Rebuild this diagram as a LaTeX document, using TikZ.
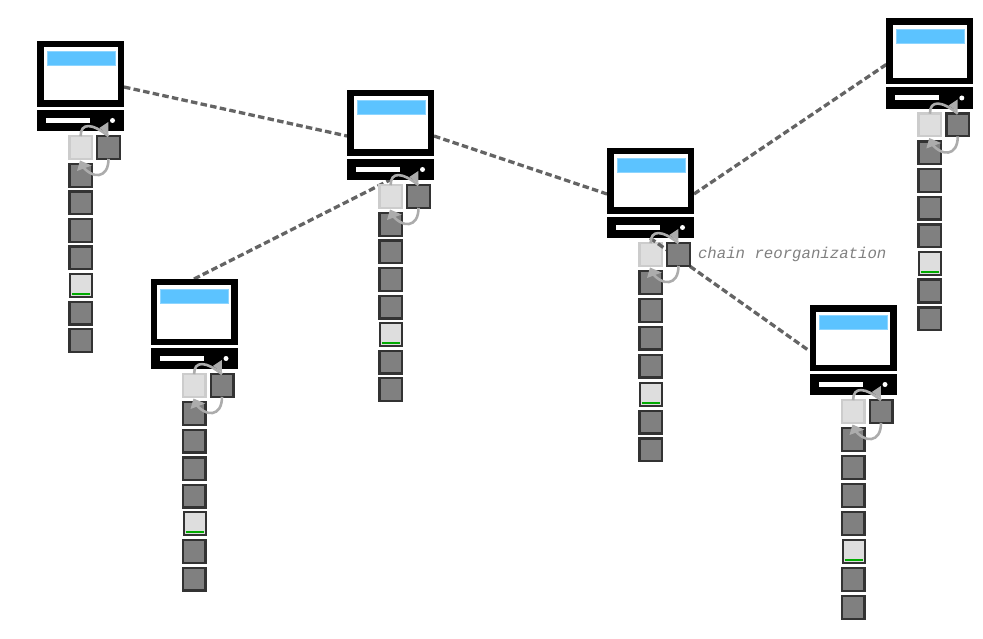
\documentclass[tikz,border=0pt]{standalone}
\usepackage{fontspec}
\setmonofont{Liberation Mono}
\usetikzlibrary{positioning, backgrounds}
\definecolor{screenblue}{RGB}{92, 195, 255}
\definecolor{blockgray}{RGB}{128, 128, 128}
\definecolor{blocklight}{RGB}{222, 222, 222}
\definecolor{arcgray}{RGB}{172, 172, 172}
\definecolor{peerline}{RGB}{100, 100, 100}
\definecolor{okgreen}{RGB}{0, 170, 0}
\tikzset{
  box/.style={rectangle, inner sep=0pt, outer sep=0pt},
  block/.style={box, draw=black!80, fill=blockgray, line width=2.4pt, minimum size=22.6pt},
  newblock/.style={box, draw=black!20, fill=blocklight, line width=2.4pt, minimum size=22.6pt},
  staleblock/.style={box, draw=black!80, fill=blocklight, line width=2pt, minimum width=22pt, minimum height=23pt},
  peer/.style={peerline, line width=3.3pt, dash pattern=on 6.5pt off 3.3pt},
  swap/.style={arcgray, line width=2.6pt},
  swaphead/.style={fill=arcgray},
}
\newcommand{\peerlist}{pc1/37/41/27.5, pc2/347/90/27.5, pc3/607/148/27.9, pc4/150.5/279/27.6, pc5/886.3/18.5/27.6, pc6/809.5/305/28}
\begin{document}
\begin{tikzpicture}[x=1pt, y=-1pt]
      \useasboundingbox (0,0) rectangle (983,639);
      % Light blocks and the ports of the lines
      \foreach \n/\px/\py/\st in \peerlist {
        \begin{scope}[shift={(\px,\py)}]
          \node[newblock] (\n-new) at (43.6,106.5) {};
          \coordinate (\n-l) at (0,46);
          \coordinate (\n-r) at (87,46);
          \coordinate (\n-b) at (43,90);
        \end{scope}
      }
      \draw[peer] (pc3-b) -- (pc6-l);
      % One computer with its chain
      \foreach \n/\px/\py/\st in \peerlist {
        \begin{scope}[shift={(\px,\py)}]
          \node[box, fill=black, minimum width=87pt, minimum height=66pt] (\n-mon) at (43.5,33) {};
          \node[box, fill=white, minimum width=74pt, minimum height=53pt] (\n-scr) at (43.5,33) {};
          \node[box, fill=screenblue, draw=screenblue!70!white, minimum width=68pt, minimum height=14pt] (\n-bar) at (44,17.5) {};
          \node[box, fill=black, minimum width=87pt, minimum height=21.5pt] (\n-base) at (43.5,79.5) {};
          \node[box, fill=white, minimum width=44pt, minimum height=5pt] (\n-slot) at (31,79.5) {};
          \node[circle, fill=white, inner sep=0pt, minimum size=5pt] (\n-led) at (75.5,79.5) {};
          \node[block] (\n-old) at (71.5,106.5) {};
          \foreach \k in {0,1,2,3,5,6} {
            \node[block] (\n-c\k) at (43.6,{134.5+\k*\st}) {};
          }
          \node[staleblock] (\n-stale) at (44,{134.5+4*\st}) {};
          \draw[okgreen, line width=2pt] ([shift={(2,-3)}]\n-stale.south west) -- ([shift={(-2,-3)}]\n-stale.south east);
          % Swap arcs
          \draw[swap] (\n-new.north) .. controls +(0,-14) and +(-16,-13) .. (\n-old.north);
          \fill[swaphead] (71.3,81) -- (62.3,87) -- (71.3,93.3) -- cycle;
          \draw[swap] (\n-old.south) .. controls +(0,20) and +(12,16) .. (\n-c0.north);
          \fill[swaphead] (43,119.5) -- (40,130) -- (54.7,124.5) -- cycle;
        \end{scope}
      }
      \begin{scope}[on background layer]
        \draw[peer] (pc1-r) -- (pc2-l);
        \draw[peer] (pc2-r) -- (pc3-l);
        \draw[peer] (pc3-r) -- (pc5-l);
        \draw[peer] (pc4-mon.north) -- (pc2-b);
      \end{scope}
      % Label next to the dark block
      \node[right=8pt of pc3-old, inner sep=0pt, text=black!50, font=\fontsize{15.7}{18}\selectfont\ttfamily\itshape] (reorg) {chain reorganization};
    \end{tikzpicture}
\end{document}
